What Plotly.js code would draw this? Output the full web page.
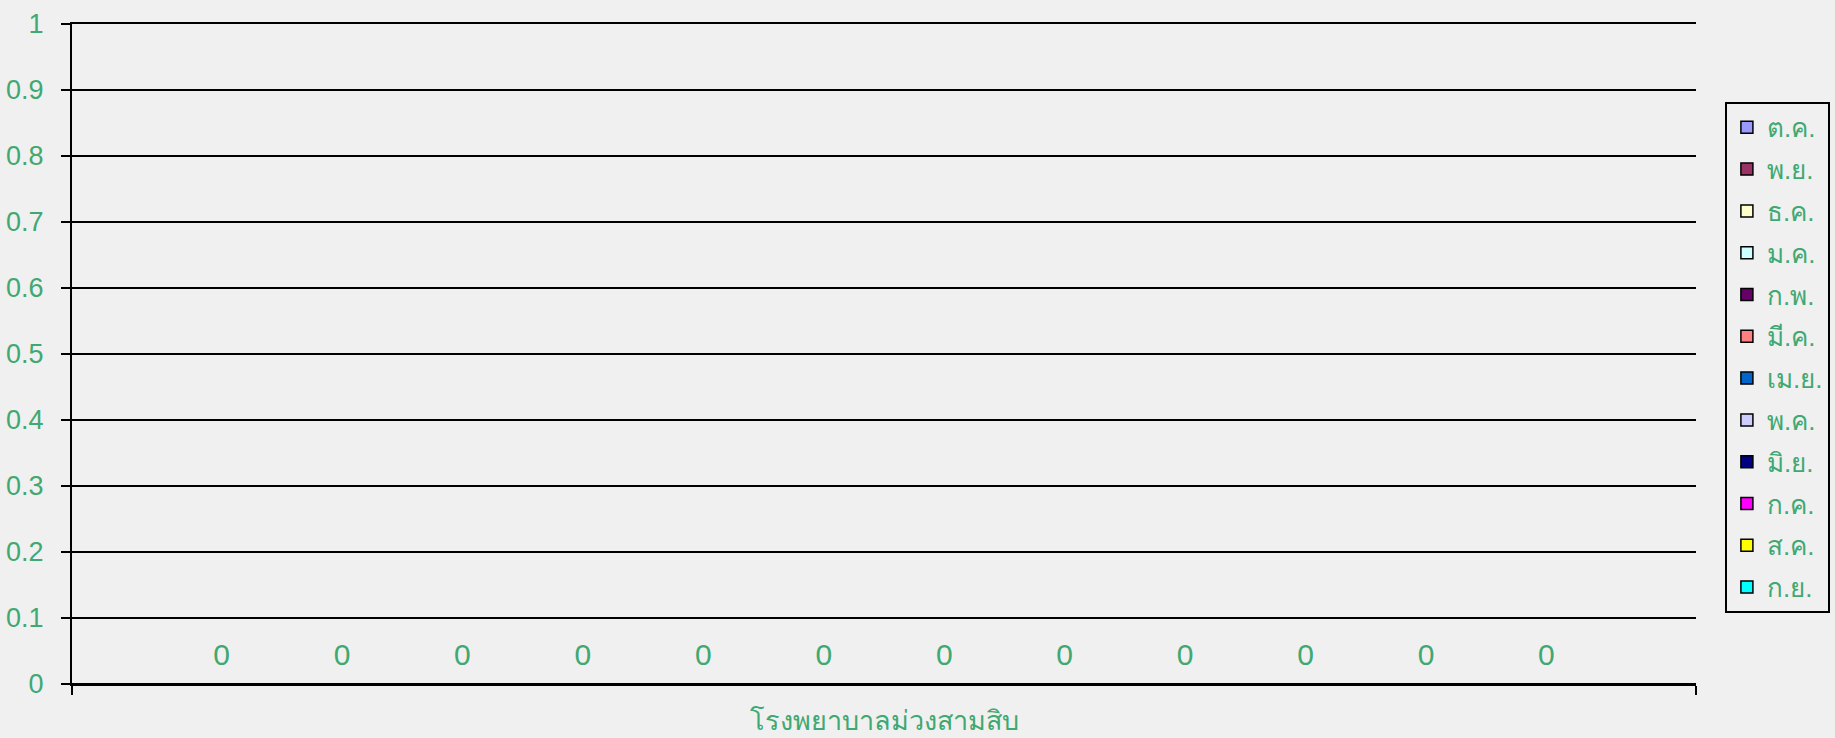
<!DOCTYPE html>
<html>
<head>
<meta charset="utf-8">
<script src="https://cdn.plot.ly/plotly-3.0.1.min.js"></script>
<style>
  html, body { margin: 0; padding: 0; background: #f0f0f0; }
  #chart { width: 1835px; height: 738px; }
</style>
</head>
<body>
<div id="chart"></div>
<script>
// Hospital name (single category on the x axis)
const categories = ['โรงพยาบาลม่วงสามสิบ'];

// Months of the fiscal year, Oct → Sep
const months = ['ต.ค.', 'พ.ย.', 'ธ.ค.', 'ม.ค.', 'ก.พ.', 'มี.ค.',
                'เม.ย.', 'พ.ค.', 'มิ.ย.', 'ก.ค.', 'ส.ค.', 'ก.ย.'];

// Monthly counts (one value per month for the hospital)
const monthValues = [0, 0, 0, 0, 0, 0, 0, 0, 0, 0, 0, 0];

// Series fill colours
const monthColors = ['#9999FF', '#993366', '#FFFFCC', '#CCFFFF', '#660066', '#FF8080',
                     '#0066CC', '#CCCCFF', '#000080', '#FF00FF', '#FFFF00', '#00FFFF'];

// Y axis tick values
const yTicks = [0, 0.1, 0.2, 0.3, 0.4, 0.5, 0.6, 0.7, 0.8, 0.9, 1];

const green = '#40a870';
const fontFamily = '"Liberation Sans", Tahoma, sans-serif';
const GAP = 0.11;

// Bars, one trace per month
const barTraces = months.map((m, i) => ({
  type: 'bar',
  name: m,
  x: categories,
  y: [monthValues[i]],
  legendgroup: 'g' + i,
  marker: { color: monthColors[i], line: { color: '#000000', width: 1.5 } },
  hoverinfo: 'name+y'
}));

// Value labels, grouped the same way as the bars so each sits over its bar
const labelTraces = months.map((m, i) => ({
  type: 'scatter',
  mode: 'markers+text',
  name: m,
  x: categories,
  y: [monthValues[i]],
  legendgroup: 'g' + i,
  showlegend: false,
  text: [String(monthValues[i])],
  textposition: 'top center',
  textfont: { family: fontFamily, size: 30, color: green },
  marker: { size: 17, opacity: 0, color: monthColors[i] },
  cliponaxis: false,
  hoverinfo: 'skip'
}));

const layout = {
  width: 1835,
  height: 738,
  paper_bgcolor: '#f0f0f0',
  plot_bgcolor: '#f0f0f0',
  margin: { l: 72, r: 139, t: 24, b: 54, autoexpand: false },
  barmode: 'group',
  bargap: GAP,
  bargroupgap: 0,
  scattermode: 'group',
  scattergap: GAP,
  font: { family: fontFamily, color: green },
  showlegend: true,
  legend: {
    x: 1.0178,
    xanchor: 'left',
    y: 0.882,
    yanchor: 'top',
    bgcolor: '#f0f0f0',
    bordercolor: '#000000',
    borderwidth: 2,
    traceorder: 'grouped',
    tracegroupgap: 5,
    font: { family: fontFamily, size: 26, color: green }
  },
  xaxis: {
    type: 'category',
    showgrid: false,
    showline: true,
    mirror: true,
    linecolor: '#000000',
    linewidth: 2,
    ticks: 'outside',
    tickson: 'boundaries',
    ticklen: 9,
    tickwidth: 2,
    tickcolor: '#000000',
    ticklabelstandoff: 12,
    tickfont: { family: fontFamily, size: 27, color: green },
    zeroline: false
  },
  yaxis: {
    range: [0, 1],
    tickvals: yTicks,
    ticktext: yTicks.map(v => String(v)),
    showgrid: true,
    gridcolor: '#000000',
    gridwidth: 2,
    showline: true,
    linecolor: '#000000',
    linewidth: 2,
    ticks: 'outside',
    ticklen: 9,
    tickwidth: 2,
    tickcolor: '#000000',
    ticklabelstandoff: 12,
    tickfont: { family: fontFamily, size: 27, color: green },
    zeroline: true,
    zerolinecolor: '#000000',
    zerolinewidth: 2
  }
};

Plotly.newPlot('chart', barTraces.concat(labelTraces), layout, { displayModeBar: false, staticPlot: true });
</script>
</body>
</html>
